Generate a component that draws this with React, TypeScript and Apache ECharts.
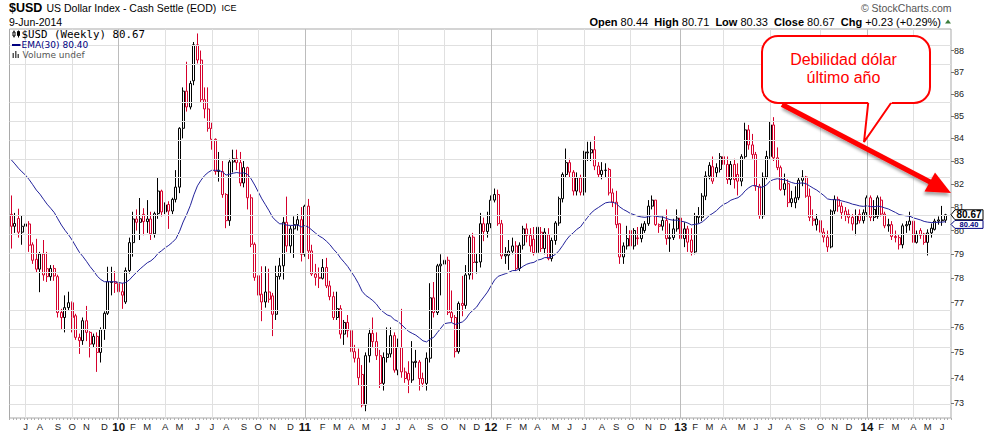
import React, { useEffect, useRef } from "react";
import * as echarts from "echarts";

// Weekly bars, Monday-dated, starting here. Rows: [open, close, low, high]
const FIRST_WEEK_UTC = Date.UTC(2009, 5, 8);

const WEEKS_2009 = [
  [80.69, 80.18, 79.24, 81.5], [80.18, 80.3, 79.9, 80.75], [80.51, 79.93, 79.7, 80.93], [79.93, 80.18, 79.4, 80.62],
  [80.18, 80.28, 79.8, 80.9], [80.28, 79.38, 79.1, 80.4], [79.4, 78.75, 78.6, 79.5], [78.79, 78.38, 78.25, 79.65],
  [78.38, 79.01, 77.43, 79.1], [79.01, 78.14, 77.9, 79.6], [78.4, 78.07, 77.85, 79.1], [78.07, 78.41, 77.9, 78.55],
  [78.41, 78.1, 77.9, 78.55], [78.07, 76.6, 76.4, 78.15], [76.6, 76.4, 75.9, 76.75], [76.4, 76.8, 75.8, 77.3],
  [76.8, 77.0, 76.7, 77.45], [77.0, 76.4, 75.8, 77.05], [76.47, 75.6, 75.5, 76.55], [75.6, 75.47, 74.94, 75.75],
  [75.47, 76.27, 75.3, 76.4], [76.27, 75.8, 75.45, 76.87], [75.8, 75.33, 74.8, 75.85], [75.33, 75.64, 75.2, 75.75],
  [75.64, 75.0, 74.23, 75.8], [75.0, 75.91, 74.6, 76.0], [75.91, 76.57, 75.5, 76.65], [76.57, 77.86, 76.5, 78.48],
  [77.83, 77.86, 77.3, 78.48], [77.86, 77.79, 77.4, 78.3],
];
const WEEKS_2010 = [
  [77.79, 77.45, 76.9, 78.2], [77.45, 77.31, 76.75, 77.8], [77.03, 78.32, 76.95, 78.45], [78.32, 79.49, 78.2, 79.7],
  [79.49, 80.49, 78.9, 80.8], [80.49, 80.35, 80.0, 80.9], [80.35, 80.5, 79.6, 81.39], [80.69, 80.38, 79.8, 80.95],
  [80.38, 80.49, 79.9, 81.3], [80.49, 79.86, 79.6, 80.8], [79.86, 80.72, 79.7, 80.8], [80.72, 81.69, 80.5, 82.26],
  [81.69, 80.79, 80.6, 81.75], [80.79, 81.09, 80.7, 81.2], [81.11, 80.83, 80.07, 81.25], [80.83, 81.33, 80.7, 81.4],
  [81.33, 81.86, 81.2, 82.6], [81.86, 84.45, 81.6, 84.5], [84.45, 86.13, 84.0, 86.3], [86.13, 85.41, 85.2, 87.48],
  [85.41, 86.48, 85.3, 86.6], [86.6, 88.27, 86.4, 88.4], [88.27, 87.56, 87.4, 88.8], [87.56, 85.74, 85.6, 88.0],
  [85.74, 85.32, 84.9, 86.3], [85.32, 84.45, 84.3, 86.3], [84.45, 83.96, 83.5, 84.7], [83.96, 82.54, 82.4, 84.0],
  [82.6, 82.54, 82.1, 83.4], [82.54, 81.54, 81.4, 83.0], [81.54, 80.42, 80.1, 81.6], [80.42, 82.96, 80.2, 83.1],
  [82.96, 83.1, 82.5, 83.5], [83.1, 82.93, 82.6, 83.5], [82.93, 82.04, 81.9, 83.4], [82.04, 82.71, 81.85, 83.0],
  [82.71, 81.4, 80.9, 82.75], [81.4, 79.42, 79.3, 81.55], [79.42, 78.04, 77.9, 79.5], [78.11, 77.31, 76.9, 78.2],
  [77.35, 77.03, 76.25, 78.5], [77.03, 77.44, 76.8, 78.5], [77.44, 77.14, 77.0, 78.4], [77.28, 76.53, 75.65, 77.4],
  [76.53, 78.08, 76.3, 78.52], [78.08, 78.52, 77.95, 78.85], [78.52, 80.35, 77.95, 80.57], [80.35, 79.35, 79.1, 81.45],
  [79.35, 80.07, 79.05, 80.2], [80.07, 80.25, 78.85, 80.6], [80.25, 80.46, 80.0, 80.7], [80.46, 79.0, 78.7, 81.0],
];
const WEEKS_2011 = [
  [79.0, 81.04, 78.9, 81.1], [81.04, 79.14, 78.8, 81.35], [79.14, 78.18, 78.1, 79.4], [78.18, 78.04, 77.7, 78.6],
  [78.04, 78.0, 77.6, 78.45], [78.0, 78.45, 77.95, 78.8], [78.45, 77.69, 77.6, 78.85], [77.69, 77.25, 77.1, 77.9],
  [77.25, 76.4, 76.3, 77.45], [76.4, 76.76, 76.3, 77.45], [76.76, 75.73, 75.55, 76.9], [75.73, 76.2, 75.3, 76.3],
  [76.2, 75.87, 75.6, 76.5], [75.87, 75.03, 74.95, 76.3], [75.03, 74.77, 74.6, 75.3], [74.77, 74.0, 73.7, 75.15],
  [74.13, 72.94, 72.85, 74.5], [72.94, 74.87, 72.7, 75.0], [74.87, 75.76, 74.6, 75.95], [75.76, 75.43, 75.2, 76.4],
  [75.43, 74.87, 74.7, 75.8], [74.87, 73.78, 73.6, 75.1], [73.78, 74.8, 73.5, 75.0], [74.8, 74.94, 74.6, 76.0],
  [74.94, 75.67, 74.8, 76.0], [75.67, 74.3, 74.2, 75.8], [74.3, 75.19, 74.1, 75.55], [75.19, 74.23, 74.0, 76.75],
  [74.23, 73.97, 73.8, 74.4], [74.17, 73.91, 73.4, 74.65], [73.91, 74.62, 73.8, 75.45], [74.6, 74.65, 74.4, 75.1],
  [74.62, 73.97, 73.5, 74.7], [73.97, 73.78, 73.65, 74.2], [73.78, 74.77, 73.5, 75.0], [74.77, 77.2, 74.6, 77.8],
  [77.2, 76.6, 76.4, 77.85], [76.6, 78.52, 76.5, 78.6], [78.52, 78.59, 77.3, 79.0], [78.59, 78.75, 78.3, 79.85],
  [78.75, 76.6, 76.5, 78.9], [76.6, 76.4, 76.2, 77.5], [76.4, 75.03, 74.8, 76.5], [75.03, 76.97, 74.95, 77.05],
  [76.97, 76.89, 76.45, 78.1], [76.89, 78.14, 76.75, 78.55], [78.14, 79.72, 77.95, 79.85], [79.72, 78.66, 77.95, 79.9],
  [78.66, 78.68, 78.2, 79.05], [78.68, 80.29, 78.45, 80.75], [80.29, 79.96, 79.55, 80.55], [79.96, 80.29, 79.7, 80.8],
];
const WEEKS_2012 = [
  [80.29, 81.3, 80.1, 81.5], [81.3, 81.54, 81.2, 81.8], [81.54, 80.29, 80.2, 81.75], [80.29, 78.93, 78.8, 80.45],
  [79.0, 78.93, 78.6, 79.3], [78.96, 79.13, 78.35, 79.6], [79.13, 79.35, 79.0, 79.7], [79.35, 78.41, 78.3, 79.55],
  [78.41, 79.38, 78.3, 79.5], [79.38, 80.07, 79.2, 80.2], [80.07, 79.79, 79.5, 80.3], [79.79, 79.35, 79.1, 80.1],
  [79.63, 79.07, 78.95, 80.15], [79.07, 80.14, 78.9, 80.2], [79.93, 79.24, 79.1, 80.15], [79.24, 79.93, 79.0, 80.1],
  [79.82, 78.82, 78.75, 80.1], [78.82, 79.58, 78.7, 79.7], [79.58, 80.32, 79.4, 80.4], [80.32, 81.36, 80.2, 81.45],
  [81.36, 82.41, 81.2, 82.5], [82.41, 82.93, 82.3, 83.55], [82.93, 82.51, 82.3, 83.1], [82.51, 81.69, 81.5, 82.6],
  [81.69, 82.26, 81.5, 82.5], [82.26, 81.64, 81.5, 82.4], [81.64, 83.4, 81.5, 83.45], [83.36, 83.4, 83.0, 83.85],
  [83.36, 83.5, 83.0, 83.85], [83.5, 82.78, 82.6, 84.1], [82.78, 82.41, 82.3, 82.95], [82.41, 82.59, 82.2, 82.95],
  [82.59, 82.6, 82.3, 82.9], [82.63, 81.61, 81.5, 82.7], [81.61, 81.21, 81.0, 81.8], [81.21, 80.25, 80.1, 81.7],
  [80.29, 78.89, 78.6, 80.3], [78.89, 79.35, 78.6, 79.5], [79.35, 79.66, 79.2, 80.2], [80.0, 79.35, 79.2, 80.1],
  [79.35, 80.0, 79.2, 80.1], [79.69, 79.66, 79.4, 80.15], [79.66, 80.14, 79.5, 80.3], [80.0, 80.29, 79.9, 80.4],
  [80.29, 81.04, 80.2, 81.3], [81.04, 81.3, 80.9, 81.5], [81.3, 80.25, 80.2, 81.3], [80.25, 80.18, 79.9, 80.3],
  [80.18, 80.43, 80.0, 80.6], [80.43, 79.66, 79.4, 80.9], [79.66, 79.7, 79.1, 80.3], [79.7, 80.07, 79.6, 80.5],
  [80.07, 80.53, 79.95, 80.9],
];
const WEEKS_2013 = [
  [80.53, 79.66, 79.5, 80.9], [79.66, 80.07, 79.3, 80.35], [80.07, 79.51, 79.1, 80.2], [79.6, 79.1, 78.95, 80.1],
  [79.1, 80.63, 79.0, 80.75], [80.56, 80.63, 80.3, 81.0], [80.56, 81.47, 80.4, 81.6], [81.47, 82.34, 81.3, 82.55],
  [82.34, 82.81, 82.2, 82.95], [82.75, 82.12, 82.0, 83.2], [82.71, 82.49, 82.3, 82.9], [82.63, 83.19, 82.5, 83.35],
  [83.19, 82.85, 82.4, 83.7], [82.85, 82.19, 82.0, 83.2], [82.19, 82.85, 81.95, 83.0], [82.85, 82.19, 81.8, 83.1],
  [82.41, 82.12, 81.5, 82.9], [82.12, 83.19, 81.9, 83.3], [83.19, 84.38, 83.1, 84.7], [84.38, 83.71, 83.5, 84.6],
  [83.71, 83.29, 83.1, 84.2], [83.29, 81.9, 81.7, 83.4], [81.9, 80.63, 80.5, 82.0], [80.63, 82.3, 80.5, 82.5],
  [82.3, 83.2, 82.2, 83.45], [83.2, 84.6, 83.1, 84.75], [84.6, 83.14, 83.0, 84.95], [83.14, 82.71, 82.6, 83.6],
  [82.71, 81.76, 81.7, 82.8], [81.76, 82.01, 81.5, 82.45], [82.01, 81.19, 81.0, 82.2], [81.36, 81.19, 81.0, 81.7],
  [81.19, 81.4, 80.95, 81.9], [81.4, 82.16, 81.3, 82.3], [82.16, 82.3, 81.9, 82.6], [82.3, 81.47, 81.4, 82.35],
  [81.47, 80.56, 80.4, 81.8], [80.49, 80.42, 80.2, 80.9], [80.24, 80.49, 80.0, 80.7], [80.42, 79.93, 79.8, 80.6],
  [79.93, 79.72, 79.5, 80.1], [79.72, 79.31, 79.1, 80.0], [79.31, 80.83, 79.25, 80.9], [80.83, 81.33, 80.7, 81.5],
  [81.33, 81.04, 80.8, 81.45], [81.04, 80.76, 80.5, 81.2], [80.83, 80.63, 80.4, 81.0], [80.69, 80.56, 80.3, 80.9],
  [80.56, 80.28, 80.0, 80.7], [80.28, 80.63, 79.8, 80.9], [80.69, 80.42, 80.3, 80.9], [80.42, 80.76, 80.3, 80.9],
];
const WEEKS_2014 = [
  [80.76, 81.4, 80.6, 81.5], [81.4, 80.56, 80.4, 81.5], [80.56, 80.9, 80.4, 81.3], [80.6, 81.4, 80.5, 81.5],
  [81.3, 80.7, 80.6, 81.45], [80.7, 80.2, 80.1, 80.8], [80.2, 80.25, 79.95, 80.5], [80.25, 79.75, 79.6, 80.4],
  [79.75, 79.7, 79.5, 80.0], [79.7, 79.4, 79.2, 79.85], [79.4, 80.2, 79.25, 80.3], [80.2, 80.25, 79.9, 80.4],
  [80.25, 80.4, 80.0, 80.8], [80.4, 79.5, 79.4, 80.6], [79.5, 79.85, 79.45, 80.0], [80.0, 79.8, 79.65, 80.1],
  [79.85, 79.5, 79.4, 79.9], [79.5, 79.9, 78.95, 80.05], [79.9, 80.1, 79.7, 80.3], [80.05, 80.4, 80.0, 80.5],
  [80.4, 80.45, 80.25, 80.6], [80.42, 80.45, 80.2, 81.05], [80.44, 80.67, 80.33, 80.71],
];

const PRICE_TICKS = [73, 74, 75, 76, 77, 78, 79, 80, 81, 82, 83, 84, 85, 86, 87, 88];
const PRICE_MIN = 72.44;
const PRICE_MAX = 89.01;
const EMA_PERIOD = 30;
const EMA_SEED = 83.25;
const MONTH_LETTERS = ["J", "F", "M", "A", "M", "J", "J", "A", "S", "O", "N", "D"];
const QUOTE_OPEN = "80.44";
const QUOTE_HIGH = "80.71";
const QUOTE_LOW = "80.33";
const QUOTE_CLOSE = "80.67";
const QUOTE_CHG = "+0.23 (+0.29%)";
const LAST_CLOSE = 80.67;
const LAST_EMA_TEXT = "80.40";

const RED = "#d5002c";
const SANS = "Liberation Sans";

export default function App() {
  const ref = useRef<HTMLDivElement>(null);

  useEffect(() => {
    document.body.style.margin = "0";
    const el = ref.current;
    if (!el) return;
    const chart = echarts.init(el, null, { renderer: "svg" });

    const rows = [...WEEKS_2009, ...WEEKS_2010, ...WEEKS_2011, ...WEEKS_2012, ...WEEKS_2013, ...WEEKS_2014];
    const dates: string[] = rows.map((_, i) => new Date(FIRST_WEEK_UTC + i * 7 * 86400000).toISOString().slice(0, 10));
    const categories = [...dates, ""];
    const monthOf = (d: string) => (d ? parseInt(d.slice(5, 7), 10) : 0);
    const monthStart = categories.map((d, i) => i > 0 && d !== "" && monthOf(d) !== monthOf(categories[i - 1]));

    const candleData = rows.map((r, i) => {
      const prev = i > 0 ? rows[i - 1][1] : r[0];
      const col = r[1] >= prev ? "#000000" : RED;
      return {
        value: r.map((v) => Math.log(v)),
        itemStyle: { color: "#ffffff", color0: col, borderColor: col, borderColor0: col, borderColorDoji: col },
      };
    });

    const alpha = 2 / (EMA_PERIOD + 1);
    let e = EMA_SEED;
    const ema = rows.map((r) => {
      e = e + alpha * (r[1] - e);
      return Math.log(e);
    });

    const vLines = categories
      .map((d, i) => ({ d, i }))
      .filter(({ d, i }) => monthStart[i] && [1, 4, 7, 10].includes(monthOf(d)))
      .map(({ d }) => ({
        xAxis: d,
        lineStyle: { color: monthOf(d) === 1 ? "#bcbcbc" : "#e0e0e0", width: 1, type: "solid" },
      }));
    const hLines = PRICE_TICKS.map((p) => ({ yAxis: Math.log(p) }));
    const logTicks = PRICE_TICKS.map((p) => Math.log(p));

    chart.setOption({
      animation: false,
      grid: { left: 9.5, right: 36, top: 29, bottom: 14, show: true, borderColor: "#a9a9a9", borderWidth: 1 },
      xAxis: {
        type: "category",
        data: categories,
        boundaryGap: true,
        axisLine: { show: false },
        axisTick: { show: true, interval: 0, length: 2, lineStyle: { color: "#b0b0b0" } },
        splitLine: { show: false },
        axisLabel: {
          interval: (index: number) => !!monthStart[index],
          formatter: (value: string) => {
            if (!value) return "";
            const m = monthOf(value);
            return m === 1 ? "{y|" + value.slice(2, 4) + "}" : MONTH_LETTERS[m - 1];
          },
          fontSize: 9.5,
          fontFamily: SANS,
          color: "#222",
          margin: 3,
          rich: { y: { fontWeight: "bold", fontSize: 11.5, fontFamily: SANS, color: "#111" } },
        },
      },
      yAxis: {
        type: "value",
        position: "right",
        min: Math.log(PRICE_MIN),
        max: Math.log(PRICE_MAX),
        axisLine: { show: false },
        splitLine: { show: false },
        axisTick: { show: true, length: 3, customValues: logTicks, lineStyle: { color: "#777" } },
        axisLabel: {
          customValues: logTicks,
          formatter: (v: number) => String(Math.round(Math.exp(v))),
          fontSize: 9,
          fontFamily: SANS,
          color: "#222",
          margin: 3,
        },
      },
      series: [
        {
          type: "line",
          data: categories.map(() => null),
          z: 1,
          silent: true,
          markLine: {
            silent: true,
            animation: false,
            symbol: ["none", "none"],
            label: { show: false },
            lineStyle: { color: "#e0e0e0", width: 1, type: "solid" },
            emphasis: { disabled: true },
            data: [...hLines, ...vLines],
          },
        },
        {
          type: "candlestick",
          data: candleData,
          barWidth: 2.5,
          z: 2,
          silent: true,
          itemStyle: { borderWidth: 1 },
        },
        {
          type: "line",
          data: ema,
          z: 3,
          silent: true,
          showSymbol: false,
          symbol: "none",
          lineStyle: { color: "#22229a", width: 1 },
        },
      ],
    });

    const yClose = chart.convertToPixel({ yAxisIndex: 0 }, Math.log(LAST_CLOSE)) as number;
    // the EMA tag sits just under the close tag, as on the original
    const yEmaTag = yClose + 9.6;
    const tag = (y: number, h: number) => [
      [951, y],
      [955, y - h],
      [983, y - h],
      [983, y + h],
      [955, y + h],
    ];

    const font = (size: number, weight = "normal", family = SANS) => ({ fontSize: size, fontWeight: weight, fontFamily: family });

    chart.setOption({
      graphic: [
        // header
        { type: "text", x: 9, y: 7.5, style: { text: "$USD", fill: "#000", ...font(12.5, "bold"), verticalAlign: "middle" } },
        { type: "text", x: 46.5, y: 7.8, style: { text: "US Dollar Index - Cash Settle (EOD)", fill: "#000", ...font(10.5), verticalAlign: "middle" } },
        { type: "text", x: 221.5, y: 8, style: { text: "ICE", fill: "#000", ...font(9), verticalAlign: "middle" } },
        { type: "text", x: 9, y: 21.7, style: { text: "9-Jun-2014", fill: "#000", ...font(10.5), verticalAlign: "middle" } },
        { type: "text", x: 951.5, y: 7.5, style: { text: "© StockCharts.com", fill: "#555", ...font(10.5), align: "right", verticalAlign: "middle" } },
        {
          type: "text",
          x: 941,
          y: 21.7,
          style: {
            text: `{b|Open} ${QUOTE_OPEN}  {b|High} ${QUOTE_HIGH}  {b|Low} ${QUOTE_LOW}  {b|Close} ${QUOTE_CLOSE}  {b|Chg} ${QUOTE_CHG}`,
            fill: "#000",
            ...font(11),
            align: "right",
            verticalAlign: "middle",
            rich: { b: { ...font(11, "bold"), fill: "#000" } },
          },
        },
        { type: "polygon", shape: { points: [[945, 23.5], [948, 19.5], [951, 23.5]] }, style: { fill: "#3c7d3c" } },

        // in-plot legend
        { type: "line", shape: { x1: 14, y1: 30.5, x2: 14, y2: 37.5 }, style: { stroke: "#000", lineWidth: 1 }, z: 50 },
        { type: "rect", shape: { x: 13, y: 32, width: 2, height: 4 }, style: { fill: "#fff", stroke: "#000", lineWidth: 1 }, z: 51 },
        { type: "line", shape: { x1: 18.5, y1: 30.5, x2: 18.5, y2: 37.5 }, style: { stroke: "#000", lineWidth: 1 }, z: 50 },
        { type: "rect", shape: { x: 17.5, y: 31.5, width: 2, height: 4 }, style: { fill: "#000", stroke: "#000", lineWidth: 1 }, z: 51 },
        { type: "text", x: 21.5, y: 34, style: { text: "$USD (Weekly) 80.67", fill: "#000", ...font(10.8, "normal", "DejaVu Sans Mono"), verticalAlign: "middle" }, z: 50 },
        { type: "line", shape: { x1: 12, y1: 45, x2: 20.5, y2: 45 }, style: { stroke: "#000080", lineWidth: 2 }, z: 50 },
        { type: "text", x: 21.5, y: 45, style: { text: "EMA(30) " + LAST_EMA_TEXT, fill: "#000080", ...font(9, "normal", "DejaVu Sans"), verticalAlign: "middle" }, z: 50 },
        { type: "rect", shape: { x: 12.5, y: 53, width: 1.5, height: 5 }, style: { fill: "#555" }, z: 50 },
        { type: "rect", shape: { x: 15, y: 51, width: 1.5, height: 7 }, style: { fill: "#555" }, z: 50 },
        { type: "rect", shape: { x: 17.5, y: 54, width: 1.5, height: 4 }, style: { fill: "#555" }, z: 50 },
        { type: "text", x: 22.5, y: 55, style: { text: "Volume undef", fill: "#555", ...font(9, "normal", "DejaVu Sans"), verticalAlign: "middle" }, z: 50 },

        // last value tags on the price axis
        { type: "polygon", shape: { points: tag(yEmaTag, 4) }, style: { fill: "#fff", stroke: "#000080", lineWidth: 1 }, z: 60 },
        { type: "text", x: 969, y: yEmaTag + 0.3, style: { text: LAST_EMA_TEXT, fill: "#000080", ...font(7.5, "bold"), align: "center", verticalAlign: "middle" }, z: 61 },
        { type: "polygon", shape: { points: tag(yClose, 5) }, style: { fill: "#fff", stroke: "#000", lineWidth: 1 }, z: 62 },
        { type: "text", x: 969, y: yClose, style: { text: QUOTE_CLOSE, fill: "#000", ...font(10, "bold"), align: "center", verticalAlign: "middle" }, z: 63 },

        // callout
        { type: "rect", shape: { x: 762, y: 36, width: 168, height: 67, r: 16 }, style: { fill: "#fff", stroke: "#ff0000", lineWidth: 2 }, z: 100 },
        { type: "polygon", shape: { points: [[868.5, 100], [864, 142], [893.5, 100]] }, style: { fill: "#fff" }, z: 101 },
        { type: "polyline", shape: { points: [[868.2, 103], [864, 142], [891, 103]] }, style: { stroke: "#ff0000", lineWidth: 2, fill: null }, z: 102 },
        { type: "text", x: 843.5, y: 59.7, style: { text: "Debilidad dólar", fill: "#ff0000", ...font(16), align: "center", verticalAlign: "middle" }, z: 103 },
        { type: "text", x: 843.5, y: 77.4, style: { text: "último año", fill: "#ff0000", ...font(16), align: "center", verticalAlign: "middle" }, z: 103 },

        // arrow
        {
          type: "line",
          shape: { x1: 782, y1: 104.5, x2: 932, y2: 183 },
          style: { stroke: "#ff0000", lineWidth: 5, shadowColor: "rgba(0,0,0,0.35)", shadowBlur: 3, shadowOffsetX: 1, shadowOffsetY: 3 },
          z: 104,
        },
        {
          type: "polygon",
          shape: { points: [[951, 193], [924.5, 191.5], [935, 172.5]] },
          style: { fill: "#ff0000", shadowColor: "rgba(0,0,0,0.35)", shadowBlur: 3, shadowOffsetX: -1, shadowOffsetY: 3 },
          z: 105,
        },
      ],
    });

    return () => chart.dispose();
  }, []);

  return <div ref={ref} style={{ width: 987, height: 433 }} />;
}
